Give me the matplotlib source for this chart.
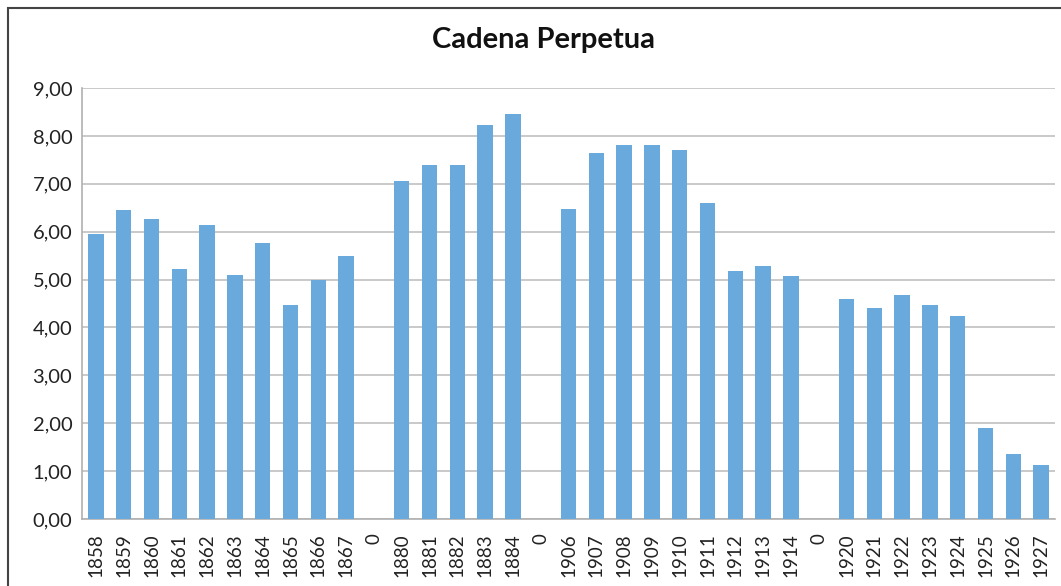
import matplotlib
matplotlib.use("Agg")
import matplotlib.pyplot as plt
from matplotlib.patches import Rectangle

plt.rcParams['font.family'] = ['Lato', 'DejaVu Sans']

labels = ['1858', '1859', '1860', '1861', '1862', '1863', '1864', '1865', '1866', '1867',
          '0',
          '1880', '1881', '1882', '1883', '1884',
          '0',
          '1906', '1907', '1908', '1909', '1910', '1911', '1912', '1913', '1914',
          '0',
          '1920', '1921', '1922', '1923', '1924', '1925', '1926', '1927']
values = [5.95, 6.45, 6.26, 5.22, 6.14, 5.09, 5.76, 4.47, 4.99, 5.49,
          0,
          7.06, 7.39, 7.39, 8.23, 8.46,
          0,
          6.47, 7.64, 7.81, 7.81, 7.70, 6.60, 5.18, 5.28, 5.07,
          0,
          4.59, 4.40, 4.68, 4.47, 4.24, 1.90, 1.36, 1.13]
yticks = [0, 1, 2, 3, 4, 5, 6, 7, 8, 9]

fig = plt.figure(figsize=(10.61, 5.86), dpi=100)
ax = fig.add_axes([82 / 1061, 1 - 519 / 586, (1055 - 82) / 1061, (519 - 88) / 586])

x = range(len(labels))
ax.bar(x, values, width=0.56, color='#6aa9dc', zorder=3)

ax.set_xlim(-0.5, len(labels) - 0.5)
ax.set_ylim(0, 9)
ax.set_yticks(yticks)
ax.set_yticklabels(['%d,00' % v for v in yticks])
ax.set_xticks(list(x))
ax.set_xticklabels(labels, rotation=90)
ax.tick_params(axis='both', length=0, colors='#222222')
ax.tick_params(axis='x', labelsize=13.5, pad=10)
ax.tick_params(axis='y', labelsize=14.5, pad=7)
ax.grid(axis='y', color='#c0c0c0', linewidth=1.2, zorder=0)
for s in ['top', 'right']:
    ax.spines[s].set_visible(False)
for s in ['left', 'bottom']:
    ax.spines[s].set_color('#b0b0b0')
    ax.spines[s].set_linewidth(1.2)

fig.text(544 / 1061, 1 - 40 / 586, 'Cadena Perpetua', ha='center', va='center',
         fontsize=21, fontweight='bold', color='#111111')

# chart border (right and bottom edges are cut off in the original)
fig.patches.append(Rectangle((8 / 1061, -0.1), 1.2, 1.1 - 8 / 586, transform=fig.transFigure,
                             fill=False, edgecolor='#444444', linewidth=1.5, clip_on=False))

fig.savefig('out.png', dpi=100)
